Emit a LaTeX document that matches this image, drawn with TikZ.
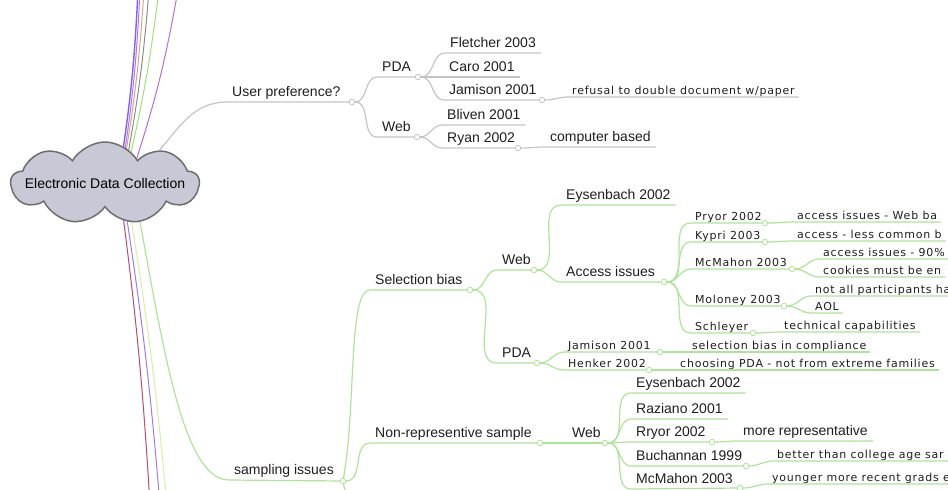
\documentclass[tikz,border=0pt]{standalone}
\usepackage{fontspec}
\setmainfont{Liberation Sans}
\newfontfamily\notefont[LetterSpace=7]{DejaVu Sans}
\usetikzlibrary{shapes.symbols}

\definecolor{greyline}{HTML}{C4C4C4}
\definecolor{greenline}{HTML}{AFE29B}
\definecolor{cloudfill}{HTML}{C9C8D7}
\definecolor{cloudedge}{HTML}{6E6E6E}
\definecolor{inktext}{HTML}{1E1E1E}
\definecolor{farviolet}{HTML}{8A5CF0}
\definecolor{farlilac}{HTML}{A77BE8}
\definecolor{farbrown}{HTML}{D6A48A}
\definecolor{fargrey}{HTML}{8C8C8C}
\definecolor{fargreen}{HTML}{9EE07E}
\definecolor{farorchid}{HTML}{B46FD8}
\definecolor{farwine}{HTML}{B0506E}
\definecolor{farpurple}{HTML}{A07AF0}
\definecolor{farlime}{HTML}{CFF2A8}

\begin{document}
\begin{tikzpicture}[x=1pt,y=-1pt,
  topic/.style={anchor=south west,inner xsep=5pt,inner ysep=2pt,text height=10pt,text depth=3pt,
    font=\fontsize{14}{16}\selectfont,text=inktext},
  note/.style={anchor=south west,inner xsep=4pt,inner ysep=0.5pt,text height=8.5pt,text depth=1.5pt,
    font=\notefont\fontsize{11}{13}\selectfont,text=inktext},
  knob/.style={circle,draw=#1,fill=white,inner sep=0pt,minimum size=5.5pt,line width=0.8pt},
  greybranch/.style={draw=greyline,line width=1.2pt},
  greenbranch/.style={draw=greenline,line width=1.2pt},
  farline/.style={draw=#1,line width=1pt}]
  \clip (0,0) rectangle (948,490);

  % branches that leave the picture, drawn under the cloud
  \coordinate (topA1) at (120,170); \coordinate (topB1) at (138,-10);
  \coordinate (topA2) at (122,170); \coordinate (topB2) at (140,-10);
  \coordinate (topA3) at (123,170); \coordinate (topB3) at (144,-10);
  \coordinate (topA4) at (125,170); \coordinate (topB4) at (149,-10);
  \coordinate (topA5) at (127,170); \coordinate (topB5) at (159,-10);
  \coordinate (topA6) at (133,170); \coordinate (topB6) at (178,-10);
  \coordinate (botA1) at (121,200); \coordinate (botB1) at (150,505);
  \coordinate (botA2) at (124,200); \coordinate (botB2) at (160,505);
  \coordinate (botA3) at (128,200); \coordinate (botB3) at (167,505);
  \draw[farline=farviolet,line width=1.4pt] (topA1) to[bend right=3] (topB1);
  \draw[farline=farlilac] (topA2) to[bend right=3] (topB2);
  \draw[farline=farbrown] (topA3) to[bend right=3] (topB3);
  \draw[farline=fargrey] (topA4) to[bend right=3] (topB4);
  \draw[farline=fargreen] (topA5) to[bend right=3] (topB5);
  \draw[farline=farorchid] (topA6) to[bend right=4] (topB6);
  \draw[farline=farwine] (botA1) to[bend left=2] (botB1);
  \draw[farline=farpurple] (botA2) to[bend left=2] (botB2);
  \draw[farline=farlime] (botA3) to[bend left=2] (botB3);

  % central topic
  \path (105,183) node[cloud,cloud puffs=9,cloud puff arc=120,cloud ignores aspect,
    minimum width=188pt,minimum height=82pt,fill=cloudfill,draw=cloudedge,line width=1.5pt] (edc) {};
  \path (edc.center) node[font=\fontsize{14}{16}\selectfont,text=black] (edcText) {Electronic Data Collection};

  % User preference?
  \path (227,102) node[topic] (user) {User preference?};
  \path (352,102) node[knob=greyline] (kUser) {};
  \path (377,77) node[topic] (pdaU) {PDA};
  \path (418,77) node[knob=greyline] (kPdaU) {};
  \path (377,137) node[topic] (webU) {Web};
  \path (417,137) node[knob=greyline] (kWebU) {};
  \path (445,53) node[topic] (fletcher) {Fletcher 2003};
  \path (444,77) node[topic] (caro) {Caro 2001};
  \path (444,100) node[topic] (jamisonU) {Jamison 2001};
  \path (542,100) node[knob=greyline] (kJamU) {};
  \path (568,97) node[note] (refusal) {refusal to double document w/paper};
  \path (442,125) node[topic] (bliven) {Bliven 2001};
  \path (442,148) node[topic] (ryan) {Ryan 2002};
  \path (518,148) node[knob=greyline] (kRyan) {};
  \path (545,147) node[topic] (computer) {computer based};

  \draw[greybranch] (edc.31) to[out=50,in=180] (user.south west) -- (kUser);
  \draw[greybranch] (kUser) to[out=0,in=180] (pdaU.south west) -- (kPdaU);
  \draw[greybranch] (kUser) to[out=0,in=180] (webU.south west) -- (kWebU);
  \draw[greybranch] (kPdaU) to[out=0,in=180] (fletcher.south west) -- (fletcher.south east);
  \draw[greybranch] (kPdaU) to[out=0,in=180] (caro.south west) -- (caro.south east);
  \draw[greybranch] (kPdaU) to[out=0,in=180] (jamisonU.south west) -- (kJamU);
  \draw[greybranch] (kJamU) to[out=0,in=180] (refusal.south west) -- (refusal.south east);
  \draw[greybranch] (kWebU) to[out=0,in=180] (bliven.south west) -- (bliven.south east);
  \draw[greybranch] (kWebU) to[out=0,in=180] (ryan.south west) -- (kRyan);
  \draw[greybranch] (kRyan) to[out=0,in=180] (computer.south west) -- (computer.south east);

  % sampling issues
  \path (229,480) node[topic] (samp) {sampling issues};
  \path (343,481) node[knob=greenline] (kSamp) {};
  \coordinate (sampDown) at (372,525);
  \path (370,290) node[topic] (selBias) {Selection bias};
  \path (470,290) node[knob=greenline] (kSel) {};
  \path (497,270) node[topic] (webS) {Web};
  \path (534,270) node[knob=greenline] (kWebS) {};
  \path (561,205) node[topic] (eysS) {Eysenbach 2002};
  \path (561,282) node[topic] (access) {Access issues};
  \path (664,282) node[knob=greenline] (kAccess) {};
  \path (691,223) node[note] (pryor) {Pryor 2002};
  \path (765,223) node[knob=greenline] (kPryor) {};
  \path (793,222) node[note] (pryorN) {access issues - Web ba};
  \path (691,242) node[note] (kypri) {Kypri 2003};
  \path (765,242) node[knob=greenline] (kKypri) {};
  \path (793,241) node[note] (kypriN) {access - less common b};
  \path (691,269) node[note] (mcmahonS) {McMahon 2003};
  \path (792,269) node[knob=greenline] (kMcmahonS) {};
  \path (819,259) node[note] (mcmahonA) {access issues - 90\%};
  \path (819,277) node[note] (mcmahonB) {cookies must be en};
  \path (691,306) node[note] (moloney) {Moloney 2003};
  \path (784,306) node[knob=greenline] (kMoloney) {};
  \path (811,296) node[note] (moloneyA) {not all participants ha};
  \path (811,313) node[note] (moloneyB) {AOL};
  \path (691,333) node[note] (schleyer) {Schleyer};
  \path (753,333) node[knob=greenline] (kSchleyer) {};
  \path (780,332) node[note] (schleyerN) {technical capabilities};
  \path (497,363) node[topic] (pdaS) {PDA};
  \path (537,363) node[knob=greenline] (kPdaS) {};
  \path (564,352) node[note] (jamisonS) {Jamison 2001};
  \path (660,352) node[knob=greenline] (kJamS) {};
  \path (688,352) node[note] (jamisonN) {selection bias in compliance};
  \path (564,370) node[note] (henker) {Henker 2002};
  \path (649,370) node[knob=greenline] (kHenker) {};
  \path (676,370) node[note] (henkerN) {choosing PDA - not from extreme families};
  \path (370,443) node[topic] (nonRep) {Non-representive sample};
  \path (540,443) node[knob=greenline] (kNonRep) {};
  \path (567,443) node[topic] (webN) {Web};
  \path (605,443) node[knob=greenline] (kWebN) {};
  \path (631,393) node[topic] (eysN) {Eysenbach 2002};
  \path (631,419) node[topic] (raziano) {Raziano 2001};
  \path (631,442) node[topic] (rryor) {Rryor 2002};
  \path (712,442) node[knob=greenline] (kRryor) {};
  \path (738,441) node[topic] (rryorN) {more representative};
  \path (631,466) node[topic] (buchannan) {Buchannan 1999};
  \path (746,466) node[knob=greenline] (kBuchannan) {};
  \path (773,461) node[note] (buchannanN) {better than college age sar};
  \path (631,489) node[topic] (mcmahonN) {McMahon 2003};
  \path (740,488) node[knob=greenline] (kMcmahonN) {};
  \path (768,484) node[note] (mcmahonNN) {younger more recent grads e};

  \draw[greenbranch] (edc.-48) .. controls +(25,138) and +(-44,0) .. (samp.south west) -- (kSamp);
  \draw[greenbranch] (kSamp) to[out=80,in=180,in looseness=0.3] (selBias.south west) -- (kSel);
  \draw[greenbranch] (kSamp) to[out=0,in=180] (nonRep.south west) -- (kNonRep);
  \draw[greenbranch] (kSamp) to[out=-80,in=180,in looseness=0.3] (sampDown);
  \draw[greenbranch] (kSel) to[out=0,in=180] (webS.south west) -- (kWebS);
  \draw[greenbranch] (kSel) to[out=0,in=180] (pdaS.south west) -- (kPdaS);
  \draw[greenbranch] (kWebS) to[out=0,in=180] (eysS.south west) -- (eysS.south east);
  \draw[greenbranch] (kWebS) to[out=0,in=180] (access.south west) -- (kAccess);
  \draw[greenbranch] (kAccess) to[out=0,in=180] (pryor.south west) -- (kPryor);
  \draw[greenbranch] (kAccess) to[out=0,in=180] (kypri.south west) -- (kKypri);
  \draw[greenbranch] (kAccess) to[out=0,in=180] (mcmahonS.south west) -- (kMcmahonS);
  \draw[greenbranch] (kAccess) to[out=0,in=180] (moloney.south west) -- (kMoloney);
  \draw[greenbranch] (kAccess) to[out=0,in=180] (schleyer.south west) -- (kSchleyer);
  \draw[greenbranch] (kPryor) to[out=0,in=180] (pryorN.south west) -- (pryorN.south east);
  \draw[greenbranch] (kKypri) to[out=0,in=180] (kypriN.south west) -- (kypriN.south east);
  \draw[greenbranch] (kMcmahonS) to[out=0,in=180] (mcmahonA.south west) -- (mcmahonA.south east);
  \draw[greenbranch] (kMcmahonS) to[out=0,in=180] (mcmahonB.south west) -- (mcmahonB.south east);
  \draw[greenbranch] (kMoloney) to[out=0,in=180] (moloneyA.south west) -- (moloneyA.south east);
  \draw[greenbranch] (kMoloney) to[out=0,in=180] (moloneyB.south west) -- (moloneyB.south east);
  \draw[greenbranch] (kSchleyer) to[out=0,in=180] (schleyerN.south west) -- (schleyerN.south east);
  \draw[greenbranch] (kPdaS) to[out=0,in=180] (jamisonS.south west) -- (kJamS);
  \draw[greenbranch] (kPdaS) to[out=0,in=180] (henker.south west) -- (kHenker);
  \draw[greenbranch] (kJamS) to[out=0,in=180] (jamisonN.south west) -- (jamisonN.south east);
  \draw[greenbranch] (kHenker) to[out=0,in=180] (henkerN.south west) -- (henkerN.south east);
  \draw[greenbranch] (kNonRep) to[out=0,in=180] (webN.south west) -- (kWebN);
  \draw[greenbranch] (kWebN) to[out=0,in=180] (eysN.south west) -- (eysN.south east);
  \draw[greenbranch] (kWebN) to[out=0,in=180] (raziano.south west) -- (raziano.south east);
  \draw[greenbranch] (kWebN) to[out=0,in=180] (rryor.south west) -- (kRryor);
  \draw[greenbranch] (kWebN) to[out=0,in=180] (buchannan.south west) -- (kBuchannan);
  \draw[greenbranch] (kWebN) to[out=0,in=180] (mcmahonN.south west) -- (kMcmahonN);
  \draw[greenbranch] (kRryor) to[out=0,in=180] (rryorN.south west) -- (rryorN.south east);
  \draw[greenbranch] (kBuchannan) to[out=0,in=180] (buchannanN.south west) -- (buchannanN.south east);
  \draw[greenbranch] (kMcmahonN) to[out=0,in=180] (mcmahonNN.south west) -- (mcmahonNN.south east);
\end{tikzpicture}
\end{document}
